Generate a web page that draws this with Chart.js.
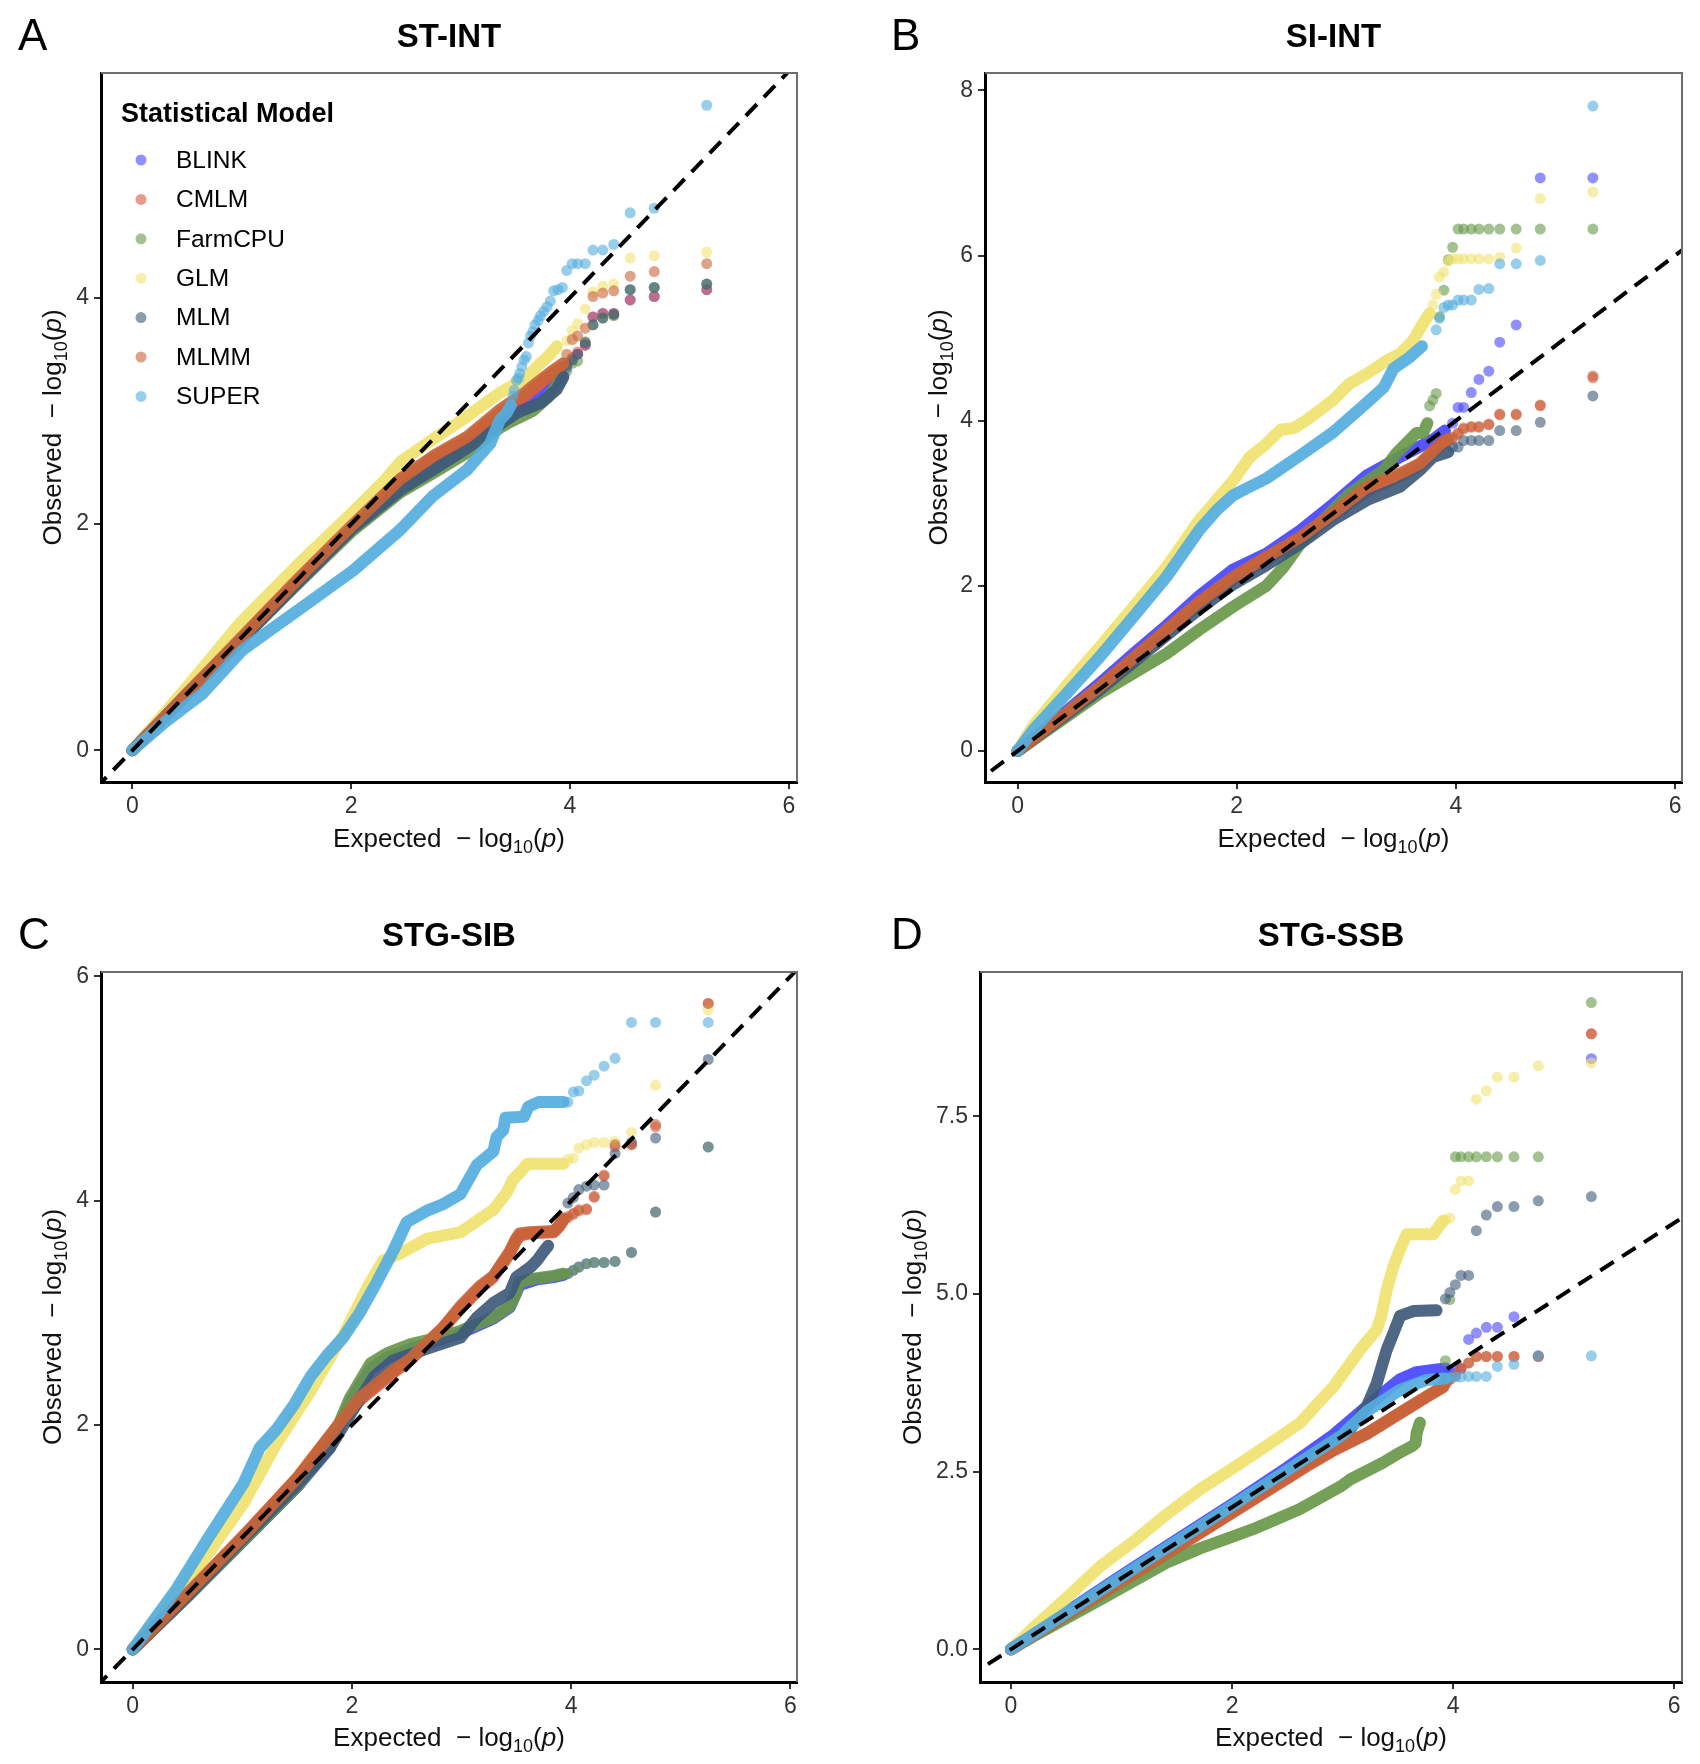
<!DOCTYPE html>
<html>
<head>
<meta charset="utf-8">
<title>QQ plots of GWAS models</title>
<script src="https://cdn.jsdelivr.net/npm/chart.js@4.4.1/dist/chart.umd.min.js"></script>
<style>
  html, body { margin: 0; padding: 0; background: #fff; }
  #page { position: relative; width: 1700px; height: 1764px; }
  canvas { position: absolute; }
</style>
</head>
<body>
<div id="page">
  <canvas id="pA" width="850" height="865" style="left:0;top:0;width:850px;height:865px"></canvas>
  <canvas id="pB" width="850" height="865" style="left:850px;top:0;width:850px;height:865px"></canvas>
  <canvas id="pC" width="850" height="865" style="left:0;top:899px;width:850px;height:865px"></canvas>
  <canvas id="pD" width="850" height="865" style="left:850px;top:899px;width:850px;height:865px"></canvas>
</div>
<script>
// models, in legend order
const models = ['BLINK', 'CMLM', 'FarmCPU', 'GLM', 'MLM', 'MLMM', 'SUPER'];

// expected -log10(p) of the sparse top-ranked points (shared by all panels)
const tailX = [5.25, 4.77, 4.55, 4.40, 4.30, 4.21, 4.14, 4.07, 4.02, 3.97, 3.93, 3.89, 3.85, 3.82, 3.79, 3.76,
               3.73, 3.71, 3.68, 3.66, 3.64, 3.62, 3.60, 3.58, 3.56, 3.54, 3.53, 3.51, 3.49, 3.48];
const xTicks = [0, 2, 4, 6];

// ---- A: ST-INT ----
const stIntBlinkBody = [[0,0],[0.5,0.5],[1.0,0.99],[1.5,1.48],[2.0,1.96],[2.45,2.32],[2.75,2.5],[3.06,2.7],[3.36,2.92],[3.6,3.05],[3.8,3.18],[3.92,3.32]];
const stIntBlinkTail = [4.07, 4.01, 3.98, 3.86, 3.86, 3.83, 3.58, 3.50, 3.45, 3.38];
const stIntCmlmBody = [[0,0],[0.5,0.5],[1.0,1.0],[1.5,1.5],[2.0,1.97],[2.45,2.38],[2.75,2.58],[3.06,2.75],[3.36,2.98],[3.6,3.14],[3.8,3.3],[3.92,3.38]];
const stIntCmlmTail = [4.07, 4.01, 3.98, 3.86, 3.86, 3.83, 3.58, 3.52, 3.47, 3.42];
const stIntFarmBody = [[0,0],[0.5,0.5],[1.0,0.98],[1.5,1.46],[2.0,1.93],[2.45,2.28],[2.75,2.45],[3.06,2.63],[3.36,2.85],[3.45,2.9],[3.66,3.0],[3.8,3.12],[3.92,3.28]];
const stIntFarmTail = [4.12, 4.09, 4.07, 3.84, 3.82, 3.76, 3.61, 3.44, 3.42, 3.35];
const stIntGlmBody = [[0,0],[0.5,0.56],[0.99,1.13],[1.5,1.63],[2.02,2.11],[2.32,2.40],[2.45,2.55],[2.75,2.75],[3.06,2.95],[3.36,3.16],[3.6,3.29],[3.73,3.42],[3.8,3.48],[3.88,3.57]];
const stIntGlmTail = [4.40, 4.37, 4.35, 4.12, 4.10, 4.05, 3.90, 3.77, 3.71, 3.62];
const stIntMlmBody = [[0,0],[0.5,0.5],[1.0,0.98],[1.5,1.47],[2.0,1.95],[2.45,2.30],[2.75,2.48],[3.06,2.67],[3.36,2.88],[3.51,2.98],[3.73,3.07],[3.88,3.19],[3.94,3.3]];
const stIntMlmTail = [4.12, 4.09, 4.07, 3.85, 3.82, 3.76, 3.60, 3.50, 3.45, 3.40];
const stIntMlmmBody = [[0,0],[0.5,0.5],[1.0,1.0],[1.5,1.5],[2.0,1.98],[2.45,2.40],[2.75,2.60],[3.06,2.77],[3.36,3.01],[3.6,3.17],[3.73,3.27],[3.85,3.36],[3.94,3.42]];
const stIntMlmmTail = [4.30, 4.23, 4.19, 4.06, 4.04, 4.01, 3.73, 3.66, 3.63, 3.50];
const stIntSuperBody = [[0,0],[0.3,0.25],[0.64,0.5],[1.0,0.88],[1.17,1.0],[1.56,1.27],[2.02,1.59],[2.45,1.95],[2.75,2.25],[3.06,2.48],[3.27,2.71],[3.36,2.92],[3.42,2.98],[3.46,3.05]];
const stIntSuperTail = [5.70, 4.79, 4.75, 4.47, 4.42, 4.42, 4.30, 4.30, 4.30, 4.24, 4.09, 4.07, 4.06, 3.97, 3.92, 3.88,
                        3.84, 3.80, 3.76, 3.70, 3.66, 3.60, 3.48, 3.45, 3.39, 3.33, 3.29, 3.27, 3.18, 3.13];

// ---- B: SI-INT ----
const siIntBlinkBody = [[0,0],[0.3,0.32],[0.75,0.82],[1.06,1.18],[1.36,1.52],[1.66,1.88],[1.97,2.2],[2.27,2.39],[2.58,2.67],[2.88,2.99],[3.19,3.34],[3.49,3.56],[3.79,3.77],[3.9,3.88]];
const siIntBlinkTail = [6.94, 6.94, 5.16, 4.95, 4.60, 4.50, 4.34, 4.16, 4.16, 3.97];
const siIntCmlmBody = [[0,0],[0.75,0.77],[1.36,1.45],[1.66,1.78],[1.97,2.08],[2.27,2.32],[2.58,2.56],[2.88,2.85],[3.19,3.15],[3.49,3.33],[3.67,3.46],[3.86,3.7],[3.93,3.76]];
const siIntCmlmTail = [4.52, 4.18, 4.07, 4.07, 3.95, 3.92, 3.92, 3.90, 3.84, 3.79];
const siIntFarmBody = [[0,0],[0.75,0.7],[1.36,1.18],[1.66,1.47],[1.97,1.75],[2.27,2.0],[2.43,2.23],[2.58,2.51],[2.88,2.92],[3.03,3.12],[3.34,3.4],[3.46,3.61],[3.55,3.73],[3.64,3.85],[3.7,3.85],[3.74,3.97]];
const siIntFarmTail = [6.32, 6.32, 6.32, 6.32, 6.32, 6.32, 6.32, 6.32, 6.32, 6.10, 5.95, 5.58, 5.26, 4.33, 4.25, 4.18];
const siIntGlmBody = [[0,0],[0.14,0.3],[0.45,0.8],[0.75,1.26],[1.06,1.75],[1.36,2.23],[1.66,2.8],[1.97,3.28],[2.12,3.56],[2.27,3.72],[2.4,3.89],[2.52,3.91],[2.64,4.01],[2.88,4.25],[3.03,4.45],[3.19,4.57],[3.37,4.73],[3.49,4.81],[3.61,4.97],[3.7,5.18],[3.76,5.3]];
const siIntGlmTail = [6.77, 6.69, 6.09, 5.98, 5.96, 5.96, 5.96, 5.96, 5.96, 5.96, 5.93, 5.80, 5.74, 5.53, 5.40];
const siIntMlmBody = [[0,0],[0.75,0.74],[1.36,1.4],[1.66,1.72],[1.97,2.02],[2.27,2.25],[2.58,2.51],[2.88,2.8],[3.19,3.04],[3.49,3.2],[3.67,3.4],[3.79,3.56],[3.93,3.62]];
const siIntMlmTail = [4.30, 3.98, 3.88, 3.88, 3.76, 3.76, 3.76, 3.76, 3.68, 3.68];
const siIntMlmmBody = [[0,0],[0.75,0.78],[1.36,1.47],[1.66,1.81],[1.97,2.11],[2.27,2.35],[2.58,2.59],[2.88,2.88],[3.19,3.2],[3.49,3.36],[3.67,3.48],[3.86,3.72],[3.93,3.78]];
const siIntMlmmTail = [4.54, 4.19, 4.08, 4.08, 3.96, 3.93, 3.93, 3.91, 3.85, 3.80];
const siIntSuperBody = [[0,0],[0.14,0.25],[0.45,0.7],[0.75,1.14],[1.06,1.63],[1.36,2.11],[1.66,2.68],[1.82,2.92],[1.97,3.1],[2.12,3.2],[2.27,3.3],[2.58,3.58],[2.88,3.86],[3.13,4.15],[3.34,4.4],[3.43,4.63],[3.58,4.77],[3.69,4.9]];
const siIntSuperTail = [7.81, 5.94, 5.90, 5.90, 5.60, 5.59, 5.46, 5.46, 5.46, 5.40, 5.40, 5.37, 5.24, 5.10];

// ---- C: STG-SIB ----
const stgSibBlinkBody = [[0,0],[0.5,0.47],[1.0,0.96],[1.5,1.45],[1.8,1.8],[1.98,2.2],[2.17,2.5],[2.32,2.6],[2.53,2.68],[2.74,2.74],[2.99,2.82],[3.29,2.95],[3.44,3.05],[3.53,3.25],[3.69,3.3],[3.84,3.32],[3.93,3.34]];
const stgSibBlinkTail = [4.48, 3.90, 3.54, 3.46, 3.45, 3.45, 3.44, 3.41, 3.38, 3.35];
const stgSibCmlmBody = [[0,0],[0.5,0.5],[1.0,1.0],[1.5,1.52],[1.92,2.05],[2.07,2.22],[2.38,2.47],[2.53,2.58],[2.83,2.86],[2.99,3.04],[3.17,3.22],[3.29,3.32],[3.44,3.53],[3.49,3.63],[3.53,3.69],[3.62,3.71],[3.84,3.72],[3.89,3.77],[3.93,3.83]];
const stgSibCmlmTail = [5.76, 4.66, 4.50, 4.48, 4.22, 4.03, 3.92, 3.91, 3.88, 3.85];
const stgSibFarmBody = [[0,0],[0.5,0.47],[1.0,0.96],[1.5,1.45],[1.8,1.82],[1.98,2.24],[2.17,2.55],[2.32,2.64],[2.53,2.72],[2.74,2.77],[2.99,2.84],[3.29,2.96],[3.44,3.06],[3.5,3.18],[3.53,3.28],[3.69,3.31],[3.84,3.33],[3.93,3.35]];
const stgSibFarmTail = [4.48, 3.90, 3.54, 3.46, 3.45, 3.45, 3.44, 3.41, 3.38, 3.35];
const stgSibGlmBody = [[0,0],[0.4,0.5],[0.7,0.87],[1.01,1.3],[1.31,1.83],[1.62,2.3],[1.92,2.8],[2.17,3.28],[2.29,3.47],[2.44,3.53],[2.68,3.66],[2.83,3.69],[2.99,3.72],[3.14,3.82],[3.29,3.92],[3.41,4.07],[3.47,4.19],[3.53,4.25],[3.6,4.33],[3.93,4.33]];
const stgSibGlmTail = [5.70, 5.03, 4.61, 4.53, 4.52, 4.52, 4.50, 4.47, 4.38, 4.37];
const stgSibMlmBody = [[0,0],[0.5,0.48],[1.0,0.98],[1.5,1.47],[1.8,1.8],[2.0,2.12],[2.2,2.43],[2.38,2.58],[2.68,2.68],[2.99,2.78],[3.14,2.96],[3.29,3.09],[3.44,3.18],[3.5,3.32],[3.63,3.41],[3.69,3.47],[3.75,3.55],[3.79,3.6]];
const stgSibMlmTail = [5.26, 4.56, 4.52, 4.42, 4.14, 4.14, 4.13, 4.10, 4.03, 3.98];
const stgSibMlmmBody = [[0,0],[0.5,0.5],[1.0,1.0],[1.5,1.53],[1.92,2.06],[2.07,2.24],[2.38,2.49],[2.53,2.59],[2.83,2.87],[2.99,3.06],[3.17,3.24],[3.29,3.33],[3.44,3.55],[3.49,3.65],[3.53,3.71],[3.62,3.72],[3.84,3.73],[3.89,3.78],[3.93,3.84]];
const stgSibMlmmTail = [5.76, 4.68, 4.50, 4.50, 4.23, 4.04, 3.93, 3.92, 3.89, 3.86];
const stgSibSuperBody = [[0,0],[0.4,0.54],[0.7,1.01],[1.01,1.48],[1.16,1.8],[1.31,1.96],[1.47,2.18],[1.62,2.43],[1.77,2.62],[1.92,2.78],[2.07,3.0],[2.23,3.28],[2.38,3.56],[2.5,3.81],[2.68,3.91],[2.83,3.97],[2.99,4.06],[3.14,4.32],[3.29,4.44],[3.32,4.57],[3.38,4.63],[3.4,4.74],[3.57,4.75],[3.61,4.84],[3.7,4.88],[3.93,4.88]];
const stgSibSuperTail = [5.59, 5.59, 5.59, 5.27, 5.20, 5.12, 5.07, 4.98, 4.97, 4.88];

// ---- D: STG-SSB ----
const stgSsbBlinkBody = [[0,0],[0.5,0.52],[1.0,1.04],[1.5,1.54],[2.0,2.04],[2.5,2.56],[2.92,3.02],[3.22,3.42],[3.52,3.8],[3.67,3.9],[3.82,3.93],[3.93,3.95]];
const stgSsbBlinkTail = [8.31, 4.13, 4.68, 4.53, 4.53, 4.45, 4.36, 3.95, 3.92, 3.91];
const stgSsbCmlmBody = [[0,0],[0.5,0.47],[1.0,0.95],[1.5,1.43],[2.0,1.92],[2.68,2.58],[2.92,2.8],[3.22,3.03],[3.52,3.32],[3.76,3.55],[3.91,3.69],[3.94,3.78]];
const stgSsbCmlmTail = [8.66, 4.12, 4.12, 4.12, 4.12, 4.12, 4.03, 3.95, 3.85, 3.80];
const stgSsbFarmBody = [[0,0],[0.2,0.18],[0.81,0.7],[1.41,1.22],[1.71,1.42],[2.03,1.6],[2.19,1.69],[2.61,1.97],[2.98,2.29],[3.07,2.39],[3.37,2.63],[3.52,2.77],[3.63,2.86],[3.66,2.9],[3.67,3.05],[3.7,3.19]];
const stgSsbFarmTail = [9.10, 6.93, 6.93, 6.93, 6.93, 6.93, 6.93, 6.93, 6.93, 4.92, 4.06];
const stgSsbGlmBody = [[0,0],[0.2,0.3],[0.5,0.72],[0.81,1.17],[1.11,1.52],[1.41,1.9],[1.71,2.25],[2.01,2.55],[2.31,2.86],[2.62,3.19],[2.77,3.45],[2.92,3.7],[3.16,4.22],[3.31,4.5],[3.35,4.69],[3.4,5.06],[3.46,5.39],[3.52,5.63],[3.58,5.84],[3.82,5.84],[3.87,5.95],[3.91,6.03]];
const stgSsbGlmTail = [8.25, 8.21, 8.05, 8.05, 7.86, 7.74, 6.59, 6.59, 6.47, 6.07, 6.04];
const stgSsbMlmBody = [[0,0],[0.5,0.5],[1.0,1.0],[1.5,1.5],[2.0,2.0],[2.5,2.5],[2.9,2.92],[3.07,3.1],[3.22,3.42],[3.31,3.75],[3.4,4.22],[3.46,4.45],[3.52,4.69],[3.64,4.76],[3.85,4.77]];
const stgSsbMlmTail = [6.37, 6.31, 6.23, 6.23, 6.11, 5.89, 5.26, 5.26, 5.13, 5.02, 4.93];
const stgSsbMlmmBody = [[0,0],[0.5,0.48],[1.0,0.96],[1.5,1.44],[2.0,1.93],[2.68,2.6],[2.92,2.81],[3.22,3.04],[3.52,3.33],[3.76,3.56],[3.91,3.7],[3.94,3.8]];
const stgSsbMlmmTail = [8.66, 4.12, 4.12, 4.12, 4.12, 4.12, 4.03, 3.95, 3.85, 3.80];
const stgSsbSuperBody = [[0,0],[0.5,0.51],[1.0,1.02],[1.5,1.52],[2.0,2.02],[2.5,2.52],[3.0,3.02],[3.22,3.35],[3.52,3.65],[3.76,3.79],[3.93,3.81]];
const stgSsbSuperTail = [4.13, 4.13, 4.01, 3.98, 3.84, 3.84, 3.84, 3.83, 3.83, 3.82];

// ---- styling ----
const FONT = '"Liberation Sans", Arial, Helvetica, sans-serif';
const modelRgb = ['70,70,255', '217,88,66', '104,152,74', '240,226,112', '62,90,122', '200,100,56', '84,174,224'];

function drawLogLabel(ctx, lead, cx, cy, rotate) {
  const parts = [
    { t: lead + '  \u2212 log', f: '26px ' + FONT, dy: 0 },
    { t: '10', f: '18px ' + FONT, dy: 6 },
    { t: '(', f: '26px ' + FONT, dy: 0 },
    { t: 'p', f: 'italic 26px ' + FONT, dy: 0 },
    { t: ')', f: '26px ' + FONT, dy: 0 }
  ];
  ctx.save();
  ctx.translate(cx, cy);
  if (rotate) ctx.rotate(-Math.PI / 2);
  let w = 0;
  parts.forEach(p => { ctx.font = p.f; p.w = ctx.measureText(p.t).width; w += p.w; });
  let x = -w / 2;
  ctx.fillStyle = '#111';
  ctx.textAlign = 'left';
  ctx.textBaseline = 'alphabetic';
  parts.forEach(p => { ctx.font = p.f; ctx.fillText(p.t, x, p.dy); x += p.w; });
  ctx.restore();
}

function drawLegend(ctx) {
  ctx.fillStyle = '#000';
  ctx.textAlign = 'left';
  ctx.textBaseline = 'alphabetic';
  ctx.font = 'bold 27px ' + FONT;
  ctx.fillText('Statistical Model', 121, 122);
  ctx.font = '24.5px ' + FONT;
  ctx.textBaseline = 'middle';
  models.forEach((name, k) => {
    const y = 160 + 39.4 * k;
    ctx.fillStyle = 'rgba(' + modelRgb[k] + ',0.6)';
    ctx.beginPath();
    ctx.arc(141, y, 5.5, 0, Math.PI * 2);
    ctx.fill();
    ctx.fillStyle = '#000';
    ctx.fillText(name, 176, y + 1);
  });
}

const decor = {
  id: 'decor',
  afterDraw(chart, args, o) {
    const ctx = chart.ctx, a = chart.chartArea;
    ctx.save();
    // thin grey top/right frame
    ctx.strokeStyle = '#6e6e6e';
    ctx.lineWidth = 2;
    ctx.beginPath();
    ctx.moveTo(a.left, a.top);
    ctx.lineTo(a.right, a.top);
    ctx.lineTo(a.right, a.bottom);
    ctx.stroke();
    // panel letter and title
    ctx.fillStyle = '#000';
    ctx.textBaseline = 'alphabetic';
    ctx.textAlign = 'left';
    ctx.font = '44px ' + FONT;
    ctx.fillText(o.letter, o.letterX, 50);
    ctx.textAlign = 'center';
    ctx.font = 'bold 33px ' + FONT;
    ctx.fillText(o.title, (a.left + a.right) / 2, 47);
    drawLogLabel(ctx, 'Expected', (a.left + a.right) / 2, 847, false);
    drawLogLabel(ctx, 'Observed', o.yTitleX, (a.top + a.bottom) / 2, true);
    if (o.legend) drawLegend(ctx);
    ctx.restore();
  }
};

function makePanel(id, cfg) {
  const datasets = [{
    data: [{ x: -1, y: -1 }, { x: 10, y: 10 }],
    showLine: true, borderColor: '#000', borderWidth: 4, borderDash: [16, 10],
    pointRadius: 0, order: 0
  }];
  models.forEach((name, m) => {
    datasets.push({
      label: name,
      data: cfg.bodies[m].map(p => ({ x: p[0], y: p[1] })),
      showLine: true, borderColor: 'rgba(' + modelRgb[m] + ',0.92)', borderWidth: 12,
      borderCapStyle: 'round', borderJoinStyle: 'round', pointRadius: 0, tension: 0,
      order: 2 * (7 - m)
    });
    datasets.push({
      label: name,
      data: cfg.tails[m].map((y, i) => ({ x: tailX[i], y: y })),
      backgroundColor: 'rgba(' + modelRgb[m] + ',0.6)', pointRadius: 5.5,
      pointBorderWidth: 0, borderWidth: 0,
      order: 2 * (7 - m) - 1
    });
  });

  const tickFont = { family: FONT, size: 23 };
  const gridOpts = { display: true, drawOnChartArea: false, drawTicks: true, tickLength: 7, color: '#333', lineWidth: 2 };
  const borderOpts = { display: true, color: '#000', width: 3 };

  new Chart(document.getElementById(id), {
    type: 'scatter',
    data: { datasets: datasets },
    options: {
      responsive: false,
      animation: false,
      devicePixelRatio: 1,
      events: [],
      layout: { padding: { left: 0, top: 73, right: 850 - cfg.right, bottom: 0 } },
      plugins: {
        legend: { display: false },
        tooltip: { enabled: false },
        decor: { letter: cfg.letter, letterX: cfg.letterX, title: cfg.title, yTitleX: cfg.yTitleX, legend: cfg.legend }
      },
      scales: {
        x: {
          type: 'linear', min: cfg.xMin, max: cfg.xMax,
          afterBuildTicks: s => { s.ticks = xTicks.map(v => ({ value: v })); },
          afterFit: s => { s.height = 865 - cfg.bottom; },
          ticks: { font: tickFont, color: '#333', padding: 4, maxRotation: 0, autoSkip: false },
          grid: gridOpts, border: borderOpts
        },
        y: {
          type: 'linear', min: cfg.yMin, max: cfg.yMax,
          afterBuildTicks: s => { s.ticks = cfg.yTicks.map(v => ({ value: v })); },
          afterFit: s => { s.width = cfg.left; },
          ticks: {
            font: tickFont, color: '#333', padding: 5, autoSkip: false,
            callback: v => cfg.decimals ? v.toFixed(1) : String(v)
          },
          grid: gridOpts, border: borderOpts
        }
      }
    },
    plugins: [decor]
  });
}

makePanel('pA', {
  letter: 'A', letterX: 18, title: 'ST-INT', legend: true, yTitleX: 61,
  left: 101, right: 797, bottom: 782,
  xMin: -0.287, xMax: 6.075, yMin: -0.28, yMax: 5.985, yTicks: [0, 2, 4], decimals: false,
  bodies: [stIntBlinkBody, stIntCmlmBody, stIntFarmBody, stIntGlmBody, stIntMlmBody, stIntMlmmBody, stIntSuperBody],
  tails: [stIntBlinkTail, stIntCmlmTail, stIntFarmTail, stIntGlmTail, stIntMlmTail, stIntMlmmTail, stIntSuperTail]
});
makePanel('pB', {
  letter: 'B', letterX: 41, title: 'SI-INT', legend: false, yTitleX: 97,
  left: 135, right: 832, bottom: 782,
  xMin: -0.297, xMax: 6.063, yMin: -0.375, yMax: 8.21, yTicks: [0, 2, 4, 6, 8], decimals: false,
  bodies: [siIntBlinkBody, siIntCmlmBody, siIntFarmBody, siIntGlmBody, siIntMlmBody, siIntMlmmBody, siIntSuperBody],
  tails: [siIntBlinkTail, siIntCmlmTail, siIntFarmTail, siIntGlmTail, siIntMlmTail, siIntMlmmTail, siIntSuperTail]
});
makePanel('pC', {
  letter: 'C', letterX: 18, title: 'STG-SIB', legend: false, yTitleX: 61,
  left: 101, right: 797, bottom: 783,
  xMin: -0.289, xMax: 6.06, yMin: -0.29, yMax: 6.04, yTicks: [0, 2, 4, 6], decimals: false,
  bodies: [stgSibBlinkBody, stgSibCmlmBody, stgSibFarmBody, stgSibGlmBody, stgSibMlmBody, stgSibMlmmBody, stgSibSuperBody],
  tails: [stgSibBlinkTail, stgSibCmlmTail, stgSibFarmTail, stgSibGlmTail, stgSibMlmTail, stgSibMlmmTail, stgSibSuperTail]
});
makePanel('pD', {
  letter: 'D', letterX: 41, title: 'STG-SSB', legend: false, yTitleX: 71,
  left: 130, right: 832, bottom: 783,
  xMin: -0.28, xMax: 6.07, yMin: -0.46, yMax: 9.53, yTicks: [0, 2.5, 5, 7.5], decimals: true,
  bodies: [stgSsbBlinkBody, stgSsbCmlmBody, stgSsbFarmBody, stgSsbGlmBody, stgSsbMlmBody, stgSsbMlmmBody, stgSsbSuperBody],
  tails: [stgSsbBlinkTail, stgSsbCmlmTail, stgSsbFarmTail, stgSsbGlmTail, stgSsbMlmTail, stgSsbMlmmTail, stgSsbSuperTail]
});
</script>
</body>
</html>
